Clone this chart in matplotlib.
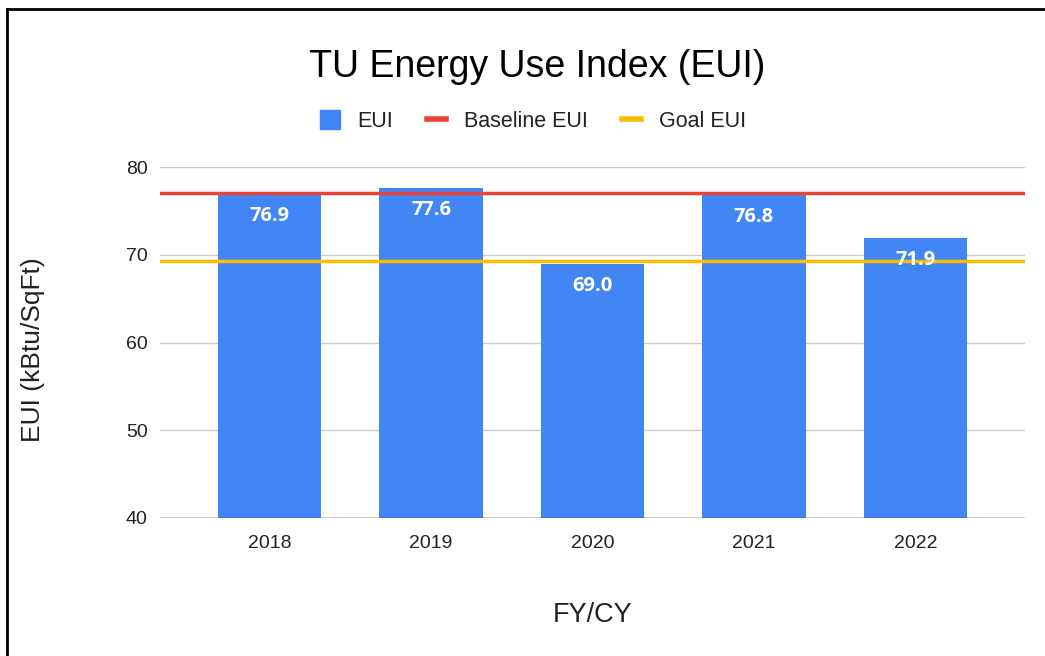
import numpy as np
import matplotlib.pyplot as plt
from matplotlib.lines import Line2D
from matplotlib.patches import Patch

years = ['2018', '2019', '2020', '2021', '2022']
eui = [76.9, 77.6, 69.0, 76.8, 71.9]
baseline_eui = 77.0
goal_eui = 69.3
yticks = [40, 50, 60, 70, 80]

blue = '#4285f4'
red = '#ea4335'
gold = '#fbbc04'
txt = '#222222'

plt.rcParams['font.family'] = ['Liberation Sans', 'DejaVu Sans']

fig = plt.figure(figsize=(10.45, 6.56), dpi=100)
ax = fig.add_axes([160 / 1045, 138 / 656, 865 / 1045, 351 / 656])

x = np.arange(len(years))
ax.bar(x, eui, width=0.64, color=blue, zorder=2)
ax.axhline(baseline_eui, color=red, lw=2.5, zorder=3)
ax.axhline(goal_eui, color=gold, lw=2.5, zorder=3)

for xi, v in zip(x, eui):
    ax.text(xi, v - 1.4, f'{v:.1f}', ha='center', va='top', color='white',
            fontsize=14.5, fontweight='bold', family=['Open Sans', 'DejaVu Sans'], zorder=4)

ax.set_ylim(40, 80)
ax.set_xlim(-0.68, 4.68)
ax.set_yticks(yticks)
ax.set_xticks(x)
ax.set_xticklabels(years)
ax.tick_params(length=0, labelsize=14, colors=txt)
ax.tick_params(axis='x', pad=12)
ax.tick_params(axis='y', pad=9)
ax.grid(axis='y', color='#cccccc', lw=1, zorder=0)
for s in ax.spines.values():
    s.set_visible(False)
ax.axhline(40, color='#333333', lw=1, zorder=3)

ax.set_xlabel('FY/CY', fontsize=19.5, color=txt, labelpad=36)
ax.set_ylabel('EUI (kBtu/SqFt)', fontsize=19, color=txt)
ax.yaxis.set_label_coords(-0.133, 0.48)

fig.text(0.514, 1 - 67 / 656, 'TU Energy Use Index (EUI)', ha='center', va='center',
         fontsize=27, color='black')

handles = [Patch(color=blue), Line2D([], [], color=red, lw=4), Line2D([], [], color=gold, lw=4)]
fig.legend(handles, ['EUI', 'Baseline EUI', 'Goal EUI'], loc='center',
           bbox_to_anchor=(0.51, 1 - 121 / 656), ncol=3, frameon=False, fontsize=15.5,
           handlelength=0.9, handleheight=1.0, columnspacing=1.6, handletextpad=0.8,
           labelcolor=txt)

# figure border (only top and left visible in the crop)
fig.add_artist(Line2D([7 / 1045, 7 / 1045], [0, 1 - 9 / 656], color='black', lw=2, transform=fig.transFigure))
fig.add_artist(Line2D([7 / 1045, 1], [1 - 9 / 656, 1 - 9 / 656], color='black', lw=2, transform=fig.transFigure))

fig.savefig('out.png', dpi=100)
